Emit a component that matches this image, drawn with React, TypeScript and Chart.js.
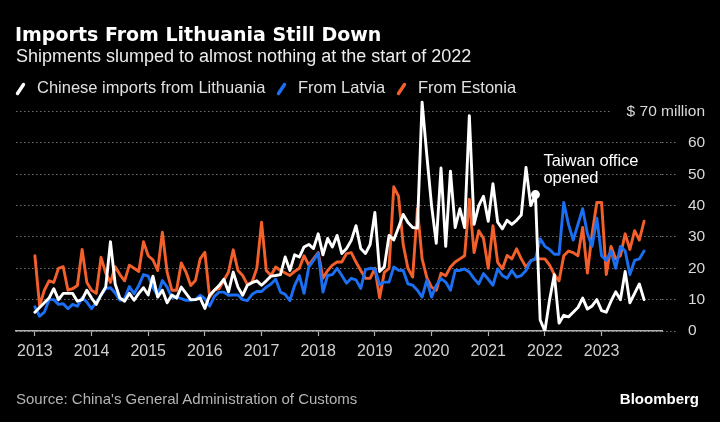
import React, { useEffect, useRef } from 'react';
import { Chart, registerables } from 'chart.js';

Chart.register(...registerables);

// ---------- data ----------
const yearLabels = ['2013', '2014', '2015', '2016', '2017', '2018', '2019', '2020', '2021', '2022', '2023'];

// Monthly values, Jan 2013 – Oct 2023, $ million
const lithuania = [
  6, 7.5, 9, 10.5, 13.5, 10, 12, 12, 12, 9.5, 10, 13,
  10.5, 8.5, 11.5, 14, 28.5, 15, 10.5, 9.5, 12, 9.8, 12, 13.8,
  11.5, 17.5, 10.8, 13, 9, 11.5, 10.5, 14, 12, 10, 10, 10.5,
  7.2, 11.4, 13, 14.5, 16.5, 12.5, 18.8, 14, 11.4, 14.6, 15.4, 16,
  14.6, 16, 17.5, 17.7, 18, 23.6, 19.3, 24.3, 23.6, 26.8, 27.6, 26.3,
  31, 24.3, 29.5, 26.8, 30.5, 24.7, 26.3, 28.9, 33.6, 26.3, 24.7, 27.6,
  37.8, 19, 20.5, 30.5, 29, 33, 37.2, 34.6, 33, 32.8, 73, 56,
  40, 28, 52, 27, 51, 33, 39, 33, 68.7, 34, 40, 43,
  35, 47, 34.7, 32.6, 35.3, 34, 35.3, 37, 52.2, 40, 43.5, 3.5,
  0, 10, 18, 2.5, 5, 4.5, 6, 7.5, 10.5, 7, 8, 10,
  6.5, 6, 9.5, 12.5, 10, 19, 9, 12, 15, 10,
];

const latvia = [
  7.7, 4.7, 6, 10, 10, 8.5, 8.7, 7.1, 8.5, 7.9, 10.6, 9.2,
  7.1, 9.2, 11.4, 13.5, 13.8, 12.1, 9.8, 10.3, 14.2, 11.9, 14.5, 18,
  17.5, 13.8, 11.4, 16.1, 14, 10.6, 11, 10.3, 9.8, 9.8, 10, 11.4,
  10.3, 7.9, 11, 12.4, 12.4, 11.4, 11.5, 11.5, 10, 9.7, 11.7, 12.6,
  12.6, 14, 15, 16.5, 12.4, 11.7, 9.7, 14.5, 17.7, 12, 20.4, 22.5,
  24.8, 12.4, 17.7, 18, 20, 17.7, 15.2, 16.8, 16.3, 13.6, 19.6, 20,
  19.8, 14.8, 15.6, 15.6, 20.4, 19.4, 19.3, 15, 14.6, 13, 10.8, 16.2,
  10.8, 14.6, 16.7, 15.6, 13, 19.3, 19.3, 19.8, 18.8, 16.7, 15, 18.3,
  16.5, 14.6, 19.8, 17.7, 16.8, 19.3, 17.2, 17.7, 19.3, 22.4, 23, 29.4,
  27, 26, 24.5, 24.5, 41, 34, 29, 34, 39, 31, 27, 36,
  24, 22.5, 25.5, 20, 27, 25.5, 18, 22.5, 23, 25.5,
];

const estonia = [
  24, 8, 13, 16, 15.5, 20, 20.5, 13, 13.5, 14.5, 26, 15.5,
  13, 12, 23.5, 18.5, 15.5, 20.5, 18, 16, 21, 20, 19, 28.5,
  24, 22.7, 19.3, 31.5, 18.8, 13, 13, 21.7, 18.8, 14.5, 16.1, 23,
  25.1, 10.8, 13, 13.5, 16.1, 18.8, 25.9, 19.3, 17.7, 14.8, 15.6, 20,
  34.7, 19.3, 17.7, 20.4, 19.3, 18.5, 17.7, 19, 20, 24, 21, 23,
  25, 16.8, 19.3, 21, 22, 22, 24.7, 25, 22, 19.3, 16.8, 16.8,
  20, 10.6, 18.7, 20, 46, 43, 27.5, 20, 17.2, 39, 23, 17,
  14, 13, 18.4, 17.6, 20.4, 22, 23, 24, 42, 25, 32, 29.5,
  20, 33.6, 21.9, 19.8, 24.1, 23, 26.2, 23, 20.4, 22.4, 23, 23,
  23, 21, 18, 16, 24, 25.5, 25, 24, 33, 18.5, 31, 41,
  41, 18, 27, 23, 24, 31, 26, 32, 29, 35,
];

const seriesNames = ['Chinese imports from Lithuania', 'From Latvia', 'From Estonia'];
const seriesColors = ['#ffffff', '#1b6ff2', '#f4602b'];
const markerIndex = 106; // Nov 2021
const annotationLines = ['Taiwan office', 'opened'];
const unitLabel = '$ 70 million';
const unitTick = 70;

const SANS = '"Liberation Sans", Arial, sans-serif';

const toPoints = (arr: number[]) => arr.map((v, i) => ({ x: i, y: v }));

const annotPlugin = {
  id: 'annot',
  afterDatasetsDraw(chart: any) {
    const { ctx, chartArea } = chart;
    const meta = chart.getDatasetMeta(0);
    const pt = meta.data[markerIndex];
    ctx.save();
    if (pt) {
      ctx.fillStyle = '#ffffff';
      ctx.font = `16.5px ${SANS}`;
      ctx.textAlign = 'left';
      ctx.textBaseline = 'alphabetic';
      annotationLines.forEach((t, i) => ctx.fillText(t, pt.x + 8, pt.y - 29 + i * 17));
    }
    const y = chart.scales.y;
    const py = y.getPixelForValue(unitTick);
    ctx.fillStyle = '#000';
    ctx.fillRect(chartArea.right - 50, py - 9, 120, 18);
    ctx.fillStyle = '#d9d9d9';
    ctx.font = `15.5px ${SANS}`;
    ctx.textAlign = 'right';
    ctx.textBaseline = 'middle';
    ctx.fillText(unitLabel, chartArea.right + 43, py);
    ctx.restore();
  },
};

function LegendItem({ left, color, label }: { left: number; color: string; label: string }) {
  return (
    <>
      <svg
        width={14}
        height={16}
        style={{ position: 'absolute', left: left - 23, top: 81 }}
      >
        <line x1={3.5} y1={12.5} x2={9.5} y2={3.5} stroke={color} strokeWidth={3.4} strokeLinecap="round" />
      </svg>
      <div
        style={{
          position: 'absolute',
          left,
          top: 79.3,
          fontSize: 16.5,
          lineHeight: '16.5px',
          color: '#e0e0e0',
          whiteSpace: 'nowrap',
        }}
      >
        {label}
      </div>
    </>
  );
}

export default function App() {
  const ref = useRef<HTMLCanvasElement | null>(null);

  useEffect(() => {
    document.body.style.margin = '0';
    document.body.style.background = '#000';
    if (!ref.current) return;
    const chart = new Chart(ref.current, {
      type: 'line',
      data: {
        datasets: [lithuania, latvia, estonia].map((arr, k) => ({
          label: seriesNames[k],
          data: toPoints(arr),
          borderColor: seriesColors[k],
          backgroundColor: seriesColors[k],
          borderWidth: 2.9,
          borderJoinStyle: 'round' as const,
          borderCapStyle: 'round' as const,
          tension: 0,
          pointRadius: k === 0 ? (c: any) => (c.dataIndex === markerIndex ? 4.5 : 0) : 0,
          pointHoverRadius: 0,
          pointBorderWidth: 0,
          pointBackgroundColor: seriesColors[k],
          fill: false,
        })),
      },
      options: {
        animation: false,
        responsive: false,
        maintainAspectRatio: false,
        layout: { padding: { left: 16, top: 99, right: 0, bottom: 0 } },
        plugins: {
          legend: { display: false },
          title: { display: false },
          tooltip: { enabled: false },
        },
        scales: {
          x: {
            type: 'linear',
            min: -4,
            max: 132.8,
            afterBuildTicks: (scale: any) => {
              scale.ticks = yearLabels.map((_, i) => ({ value: i * 12 }));
            },
            afterFit: (scale: any) => {
              scale.height = 91;
            },
            grid: {
              display: true,
              drawOnChartArea: false,
              drawTicks: true,
              tickLength: 5,
              tickColor: '#b0b0b0',
              tickWidth: 1.2,
            },
            border: { display: true, color: '#b0b0b0', width: 1.4 },
            ticks: {
              autoSkip: false,
              maxRotation: 0,
              minRotation: 0,
              padding: 6,
              color: '#cfcfcf',
              font: { family: SANS, size: 16 },
              callback: (v: any) => yearLabels[Math.round(Number(v) / 12)] ?? '',
            },
          },
          y: {
            position: 'right',
            min: 0,
            max: 74,
            afterFit: (scale: any) => {
              scale.width = 58;
            },
            grid: {
              color: '#707070',
              lineWidth: 1,
              drawTicks: true,
              tickLength: 15,
              tickBorderDash: [1.5, 2.5],
            },
            border: { display: false, dash: [1.5, 2.5] },
            ticks: {
              stepSize: 10,
              includeBounds: false,
              padding: 11,
              color: '#d9d9d9',
              font: { family: SANS, size: 15.5 },
              callback: (v: any) => (Number(v) === unitTick ? '' : String(v)),
            },
          },
        },
      } as any,
      plugins: [annotPlugin],
    });
    return () => chart.destroy();
  }, []);

  return (
    <div
      style={{
        position: 'fixed',
        left: 0,
        top: 0,
        width: 720,
        height: 422,
        background: '#000',
        overflow: 'hidden',
        fontFamily: SANS,
      }}
    >
      <canvas
        ref={ref}
        width={720}
        height={422}
        style={{ position: 'absolute', left: 0, top: 0, width: 720, height: 422 }}
      />
      <div
        style={{
          position: 'absolute',
          left: 15,
          top: 24.6,
          fontFamily: '"DejaVu Sans", sans-serif',
          fontWeight: 700,
          fontSize: 19,
          lineHeight: '19px',
          color: '#fff',
          whiteSpace: 'nowrap',
        }}
      >
        Imports From Lithuania Still Down
      </div>
      <div
        style={{
          position: 'absolute',
          left: 16,
          top: 46.8,
          fontSize: 18,
          lineHeight: '18px',
          color: '#ececec',
          whiteSpace: 'nowrap',
        }}
      >
        Shipments slumped to almost nothing at the start of 2022
      </div>
      <LegendItem left={37} color={seriesColors[0]} label={seriesNames[0]} />
      <LegendItem left={298} color={seriesColors[1]} label={seriesNames[1]} />
      <LegendItem left={418} color={seriesColors[2]} label={seriesNames[2]} />
      <div
        style={{
          position: 'absolute',
          left: 16,
          top: 391.3,
          fontSize: 15,
          lineHeight: '15px',
          color: '#b4b4b4',
          whiteSpace: 'nowrap',
        }}
      >
        Source: China's General Administration of Customs
      </div>
      <div
        style={{
          position: 'absolute',
          right: 21,
          top: 391.3,
          fontSize: 15,
          lineHeight: '15px',
          fontWeight: 700,
          color: '#fff',
          whiteSpace: 'nowrap',
        }}
      >
        Bloomberg
      </div>
    </div>
  );
}
